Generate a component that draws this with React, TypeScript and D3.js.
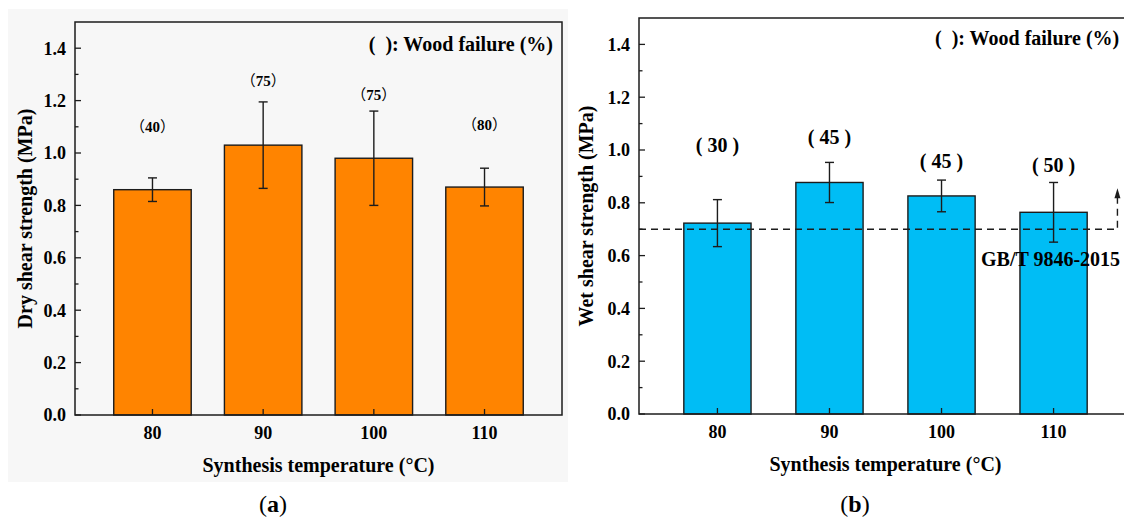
import React from 'react';
import * as d3 from 'd3';

// data
const temps = [80, 90, 100, 110];

const dryMean = [0.86, 1.03, 0.98, 0.87];
const dryErr = [0.045, 0.165, 0.18, 0.072];
const dryFailure = ['40', '75', '75', '80'];
const dryFailureAt = [1.1, 1.274, 1.223, 1.108];

const wetMean = [0.723, 0.877, 0.826, 0.764];
const wetErr = [0.089, 0.076, 0.06, 0.113];
const wetFailure = ['30', '45', '45', '50'];
const wetFailureAt = [1.02, 1.048, 0.957, 0.942];

const yMajor = [0, 0.2, 0.4, 0.6, 0.8, 1.0, 1.2, 1.4];
const yMinor = [0.1, 0.3, 0.5, 0.7, 0.9, 1.1, 1.3];
const standardLine = 0.7;
const standardLabel = 'GB/T 9846-2015';

const serif = '"Liberation Serif", "Times New Roman", serif';
const cjk = '"Noto Sans CJK SC", sans-serif';
const ink = '#1c1c1c';

function Panel(props) {
  const {
    left, right, top, bottom, means, errs, failure, failureAt, fullWidth,
    color, barW, yTitle, yTitleX, legendX, legendY, legendAnchor, children,
  } = props;

  const x = d3.scaleLinear().domain([73, 117]).range([left, right]);
  const y = d3.scaleLinear().domain([0, 1.5]).range([bottom, top]);
  const half = (x(80 + barW / 2) - x(80));

  const bars = temps.map((t, i) => {
    const cx = x(t);
    return (
      <g key={t}>
        <rect x={cx - half} y={y(means[i])} width={half * 2} height={y(0) - y(means[i])}
          fill={color} stroke={ink} strokeWidth={1.4} />
        <line x1={cx} x2={cx} y1={y(means[i] + errs[i])} y2={y(means[i] - errs[i])} stroke={ink} strokeWidth={1.4} />
        <line x1={cx - 4.5} x2={cx + 4.5} y1={y(means[i] + errs[i])} y2={y(means[i] + errs[i])} stroke={ink} strokeWidth={1.4} />
        <line x1={cx - 4.5} x2={cx + 4.5} y1={y(means[i] - errs[i])} y2={y(means[i] - errs[i])} stroke={ink} strokeWidth={1.4} />
        {fullWidth ? (
          <text x={cx} y={y(failureAt[i])} dy="0.35em" textAnchor="middle" fontSize={15} fontWeight="bold" fontFamily={serif}>
            <tspan fontFamily={cjk} fontWeight="normal">（</tspan>{failure[i]}<tspan fontFamily={cjk} fontWeight="normal">）</tspan>
          </text>
        ) : (
          <text x={cx} y={y(failureAt[i])} dy="0.35em" textAnchor="middle" fontSize={20} fontWeight="bold" fontFamily={serif}>
            {`( ${failure[i]} )`}
          </text>
        )}
      </g>
    );
  });

  return (
    <g>
      {bars}
      {children && children(x, y)}
      {yMajor.map(v => (
        <g key={'M' + v}>
          <line x1={left} x2={left + 6} y1={y(v)} y2={y(v)} stroke={ink} strokeWidth={1.3} />
          <text x={left - 9} y={y(v)} dy="0.35em" textAnchor="end" fontSize={18} fontWeight="bold" fontFamily={serif}>
            {v.toFixed(1)}
          </text>
        </g>
      ))}
      {yMinor.map(v => (
        <line key={'m' + v} x1={left} x2={left + 3.5} y1={y(v)} y2={y(v)} stroke={ink} strokeWidth={1.3} />
      ))}
      {temps.map(t => (
        <g key={'x' + t}>
          <line x1={x(t)} x2={x(t)} y1={bottom} y2={bottom - 6} stroke={ink} strokeWidth={1.3} />
          <text x={x(t)} y={bottom + 24} textAnchor="middle" fontSize={18} fontWeight="bold" fontFamily={serif}>{t}</text>
        </g>
      ))}
      <rect x={left} y={top} width={right - left} height={bottom - top} fill="none" stroke={ink} strokeWidth={1.5} />
      <text x={(left + right) / 2} y={bottom + 57} textAnchor="middle" fontSize={20} fontWeight="bold" fontFamily={serif}>
        Synthesis temperature (°C)
      </text>
      <text transform={`translate(${yTitleX},${(top + bottom) / 2}) rotate(-90)`} dy="0.35em" textAnchor="middle"
        fontSize={20} fontWeight="bold" fontFamily={serif}>{yTitle}</text>
      <text x={legendX} y={legendY} textAnchor={legendAnchor} fontSize={20} fontWeight="bold" fontFamily={serif}
        style={{ whiteSpace: 'pre' }}>{'(  ): Wood failure (%)'}</text>
    </g>
  );
}

export default function App() {
  return (
    <svg width={1124} height={517} style={{ position: 'absolute', left: 0, top: 0, background: '#fff' }}>
      <rect x={8} y={9} width={560} height={473} fill="#f7f7f7" />
      <Panel left={75} right={562} top={22} bottom={415} means={dryMean} errs={dryErr}
        failure={dryFailure} failureAt={dryFailureAt} fullWidth color="#ff8400" barW={7}
        yTitle="Dry shear strength (MPa)" yTitleX={25} legendX={553} legendY={51} legendAnchor="end" />
      <Panel left={639} right={1132} top={18} bottom={414} means={wetMean} errs={wetErr}
        failure={wetFailure} failureAt={wetFailureAt} color="#00bdf5" barW={6}
        yTitle="Wet shear strength (MPa)" yTitleX={586} legendX={935} legendY={45} legendAnchor="start">
        {(x, y) => (
          <g>
            <path d={`M${x(73)},${y(standardLine)}H${x(115.7)}V${y(standardLine) - 32}`}
              fill="none" stroke={ink} strokeWidth={1.4} strokeDasharray="7,5" />
            <path d={`M${x(115.7) - 3},${y(standardLine) - 31}L${x(115.7)},${y(standardLine) - 41}L${x(115.7) + 3},${y(standardLine) - 31}Z`}
              fill={ink} />
            <text x={981} y={266} fontSize={20} fontWeight="bold" fontFamily={serif}>{standardLabel}</text>
          </g>
        )}
      </Panel>
      <text x={273} y={512} textAnchor="middle" fontSize={24} fontFamily={serif}>
        (<tspan fontWeight="bold">a</tspan>)
      </text>
      <text x={855} y={512} textAnchor="middle" fontSize={24} fontFamily={serif}>
        (<tspan fontWeight="bold">b</tspan>)
      </text>
    </svg>
  );
}
